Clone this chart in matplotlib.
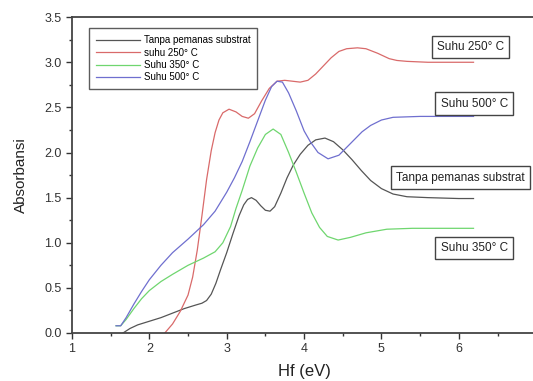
import matplotlib
matplotlib.use("Agg")
import matplotlib.pyplot as plt
from matplotlib.ticker import MultipleLocator

plt.rcParams['font.family'] = ['Liberation Sans', 'DejaVu Sans']

# Tanpa pemanas substrat (black/gray)
x_tanpa = [1.66, 1.75, 1.85, 2.0, 2.15, 2.3, 2.45, 2.6, 2.68, 2.74, 2.8, 2.86, 2.92, 3.0, 3.08, 3.16, 3.22,
           3.27, 3.32, 3.38, 3.44, 3.5, 3.56, 3.62, 3.7, 3.78, 3.86, 3.95, 4.05, 4.15, 4.27, 4.38, 4.5,
           4.62, 4.74, 4.86, 5.0, 5.15, 5.33, 5.6, 6.0, 6.19]
y_tanpa = [0.0, 0.05, 0.09, 0.13, 0.17, 0.22, 0.27, 0.31, 0.33, 0.36, 0.43, 0.55, 0.7, 0.89, 1.1, 1.3, 1.42,
           1.48, 1.5, 1.47, 1.41, 1.36, 1.35, 1.4, 1.55, 1.72, 1.86, 1.98, 2.08, 2.14, 2.16, 2.12, 2.03,
           1.92, 1.8, 1.69, 1.6, 1.54, 1.51, 1.50, 1.49, 1.49]

# suhu 250 C (red)
x_250 = [2.2, 2.3, 2.4, 2.5, 2.56, 2.62, 2.68, 2.74, 2.8, 2.85, 2.9, 2.95, 3.03, 3.12, 3.2, 3.28, 3.36,
         3.45, 3.55, 3.65, 3.75, 3.85, 3.95, 4.05, 4.15, 4.25, 4.35, 4.45, 4.55, 4.69, 4.8, 4.95, 5.1,
         5.2, 5.33, 5.6, 6.0, 6.19]
y_250 = [0.0, 0.1, 0.24, 0.42, 0.62, 0.92, 1.3, 1.7, 2.02, 2.22, 2.36, 2.44, 2.48, 2.45, 2.4, 2.38, 2.43,
         2.57, 2.71, 2.79, 2.8, 2.79, 2.78, 2.8, 2.87, 2.96, 3.05, 3.12, 3.15, 3.16, 3.15, 3.1, 3.04,
         3.02, 3.01, 3.0, 3.0, 3.0]

# Suhu 350 C (green)
x_350 = [1.57, 1.63, 1.7, 1.8, 1.9, 2.0, 2.15, 2.3, 2.5, 2.7, 2.85, 2.95, 3.05, 3.12, 3.2, 3.3, 3.4,
         3.5, 3.6, 3.7, 3.8, 3.9, 4.0, 4.1, 4.2, 4.3, 4.44, 4.6, 4.8, 5.07, 5.4, 5.8, 6.19]
y_350 = [0.08, 0.08, 0.15, 0.27, 0.38, 0.47, 0.57, 0.65, 0.75, 0.83, 0.9, 1.0, 1.18, 1.38, 1.58, 1.85, 2.05,
         2.2, 2.26, 2.2, 2.0, 1.78, 1.55, 1.33, 1.17, 1.07, 1.03, 1.06, 1.11, 1.15, 1.16, 1.16, 1.16]

# Suhu 500 C (blue)
x_500 = [1.57, 1.63, 1.7, 1.8, 1.9, 2.0, 2.15, 2.3, 2.5, 2.7, 2.85, 3.0, 3.1, 3.2, 3.3, 3.4, 3.5, 3.58,
         3.65, 3.72, 3.8, 3.9, 4.0, 4.08, 4.18, 4.31, 4.45, 4.6, 4.75, 4.86, 5.0, 5.15, 5.5, 5.9, 6.19]
y_500 = [0.08, 0.08, 0.17, 0.32, 0.46, 0.59, 0.75, 0.89, 1.04, 1.2, 1.35, 1.56, 1.72, 1.9, 2.12, 2.35, 2.58, 2.73,
         2.79, 2.78, 2.66, 2.46, 2.24, 2.12, 2.0, 1.93, 1.97, 2.1, 2.23, 2.3, 2.36, 2.39, 2.4, 2.4, 2.4]

labels = ["Tanpa pemanas substrat", "suhu 250° C", "Suhu 350° C", "Suhu 500° C"]
colors = ["#555555", "#d96a6a", "#6fd66f", "#6f6fcf"]

ann_text = ["Suhu 250° C", "Suhu 500° C", "Tanpa pemanas substrat", "Suhu 350° C"]
ann_x = [6.15, 6.2, 6.02, 6.2]
ann_y = [3.17, 2.54, 1.72, 0.94]

fig = plt.figure(figsize=(5.33, 3.81), dpi=100)
ax = fig.add_axes([0.135, 0.126, 0.871, 0.829])

for xs, ys, lab, c in zip([x_tanpa, x_250, x_350, x_500], [y_tanpa, y_250, y_350, y_500], labels, colors):
    ax.plot(xs, ys, color=c, lw=0.9, label=lab)

for t, xx, yy in zip(ann_text, ann_x, ann_y):
    ax.text(xx, yy, t, ha='center', va='center', fontsize=8.5, color='#222222',
            bbox=dict(boxstyle='square,pad=0.45', fc='white', ec='#444444', lw=1.0))

ax.set_xlim(1, 7)
ax.set_ylim(0, 3.5)
ax.xaxis.set_major_locator(MultipleLocator(1))
ax.xaxis.set_minor_locator(MultipleLocator(0.5))
ax.yaxis.set_major_locator(MultipleLocator(0.5))
ax.yaxis.set_minor_locator(MultipleLocator(0.25))
ax.tick_params(which='major', direction='out', length=4, width=1, colors='#333333', labelsize=9)
ax.tick_params(which='minor', direction='out', length=2.5, width=1, colors='#333333')
ax.set_xticks([1, 2, 3, 4, 5, 6])
for s in ['left', 'top', 'bottom']:
    ax.spines[s].set_color('#444444')
    ax.spines[s].set_linewidth(1.3)
ax.spines['right'].set_visible(False)

ax.set_xlabel("Hf (eV)", fontsize=12, color='#222222', labelpad=6)
ax.set_ylabel("Absorbansi", fontsize=11, color='#222222', labelpad=12)

leg = ax.legend(loc='upper left', bbox_to_anchor=(0.027, 0.98), fontsize=7, frameon=True,
                fancybox=False, edgecolor='#333333', handlelength=4.5, borderpad=0.7,
                labelspacing=0.25, handletextpad=0.4)
leg.get_frame().set_linewidth(1.0)

fig.savefig("out.png", dpi=100)
